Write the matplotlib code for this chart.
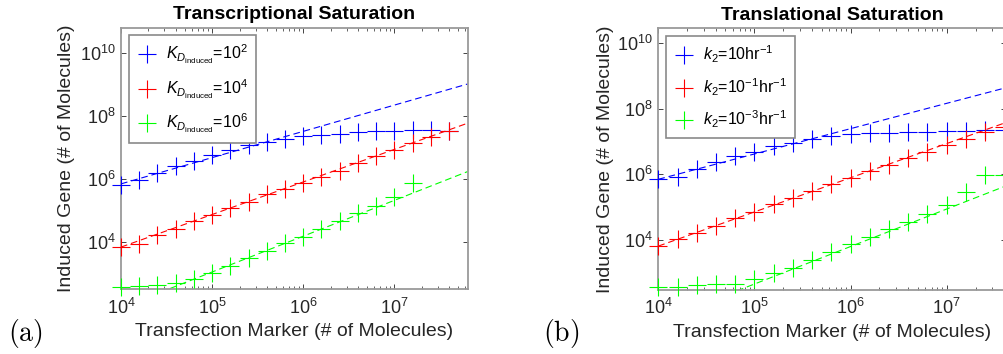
import matplotlib
matplotlib.use('Agg')
import matplotlib.pyplot as plt
import numpy as np
from matplotlib.ticker import LogLocator, FixedLocator, NullLocator, LogFormatterMathtext

plt.rcParams['font.family'] = ['Liberation Sans', 'DejaVu Sans']
plt.rcParams['mathtext.fontset'] = 'custom'
plt.rcParams['mathtext.rm'] = 'Liberation Sans'
plt.rcParams['mathtext.it'] = 'Liberation Sans:italic'
plt.rcParams['mathtext.bf'] = 'Liberation Sans:bold'

# ---------------- data (log10 of molecule counts) ----------------
marker_x_log10 = [4.0, 4.2, 4.4, 4.6, 4.8, 5.0, 5.2, 5.4, 5.6, 5.8,
                  6.0, 6.2, 6.4, 6.6, 6.8, 7.0, 7.2, 7.4, 7.6]

# Panel (a): transcriptional saturation
a_blue_log10 = [5.82, 5.98, 6.19, 6.43, 6.58, 6.77, 6.93, 7.07, 7.19, 7.27,
                7.35, 7.40, 7.44, 7.49, 7.51, 7.51, 7.54, 7.54, 7.51]
a_red_log10 = [3.85, 3.95, 4.22, 4.42, 4.66, 4.87, 5.08, 5.29, 5.53, 5.70,
               5.89, 6.08, 6.27, 6.51, 6.72, 6.91, 7.14, 7.32, 7.51]
a_green_log10 = [2.58, 2.63, 2.65, 2.71, 2.83, 3.04, 3.26, 3.52, 3.74, 3.97,
                 4.18, 4.42, 4.66, 4.92, 5.16, 5.45, 5.89]
a_line_x_log10 = [4.0, 7.805]
a_blue_line_log10 = [5.85, 9.01]
a_red_line_log10 = [3.85, 7.77]
a_green_line_log10 = [1.93, 6.24]
a_labels = [r'$K_{D_{\mathrm{induced}}}$=10$^2$',
            r'$K_{D_{\mathrm{induced}}}$=10$^4$',
            r'$K_{D_{\mathrm{induced}}}$=10$^6$']

# Panel (b): translational saturation
b_blue_log10 = [5.85, 5.93, 6.17, 6.38, 6.56, 6.69, 6.86, 6.97, 7.09, 7.17,
                7.22, 7.25, 7.27, 7.29, 7.30, 7.32, 7.32, 7.34, 7.34]
b_red_log10 = [3.81, 4.04, 4.22, 4.42, 4.66, 4.86, 5.10, 5.29, 5.49, 5.72,
               5.90, 6.10, 6.28, 6.51, 6.69, 6.90, 7.09, 7.30, 7.45]
b_green_log10 = [2.57, 2.57, 2.61, 2.64, 2.66, 2.80, 2.98, 3.15, 3.38, 3.63,
                 3.86, 4.10, 4.32, 4.55, 4.78, 5.06, 5.46, 5.97, 5.97]
b_line_x_log10 = [4.0, 7.623]
b_blue_line_log10 = [5.85, 8.65]
b_red_line_log10 = [3.81, 7.59]
b_green_line_log10 = [1.507, 5.655]
b_labels = [r'$k_2$=10hr$^{-1}$',
            r'$k_2$=10$^{-1}$hr$^{-1}$',
            r'$k_2$=10$^{-3}$hr$^{-1}$']

colors = ['#0000ff', '#ff0000', '#00ff00']
titles = ['Transcriptional Saturation', 'Translational Saturation']
panel_tags = [r'$\mathrm{(a)}$', r'$\mathrm{(b)}$']
xlabel = 'Transfection Marker (# of Molecules)'
ylabel = 'Induced Gene (# of Molecules)'
y_ticks = [1e4, 1e6, 1e8, 1e10]

W, H = 1004, 354
fig = plt.figure(figsize=(W / 100, H / 100), dpi=100)

TXT = '#262626'
SPINE = '#9a9a9a'


def make_panel(rect, series, lines, line_x, labels, title, xlim_log, ylim_log,
               leg_anchor, ylab_x):
    ax = fig.add_axes(rect)
    xm = np.power(10.0, marker_x_log10)
    lx = np.power(10.0, line_x)
    handles = []
    for ys, ly, c in zip(series, lines, colors):
        ax.plot(lx, np.power(10.0, ly), color=c, lw=0.8, dashes=(6, 3.5))
        h, = ax.plot(xm[:len(ys)], np.power(10.0, ys), ls='none', marker='+',
                     ms=13, mew=0.8, color=c, clip_on=False, zorder=3)
        handles.append(h)
    ax.set_xscale('log')
    ax.set_yscale('log')
    ax.set_xlim(10 ** xlim_log[0], 10 ** xlim_log[1])
    ax.set_ylim(10 ** ylim_log[0], 10 ** ylim_log[1])
    ax.xaxis.set_major_locator(LogLocator(base=10))
    ax.xaxis.set_minor_locator(LogLocator(base=10, subs=np.arange(2, 10)))
    ax.xaxis.set_major_formatter(LogFormatterMathtext())
    ax.yaxis.set_major_locator(FixedLocator(y_ticks))
    ax.yaxis.set_minor_locator(NullLocator())
    ax.yaxis.set_major_formatter(LogFormatterMathtext())
    ax.tick_params(which='both', direction='in', top=True, right=True,
                   colors=TXT, labelsize=13)
    ax.tick_params(which='major', length=3.5, width=0.6, pad=4)
    ax.tick_params(axis='x', which='major', pad=6)
    ax.tick_params(which='minor', length=2, width=0.5)
    for s in ax.spines.values():
        s.set_color(SPINE)
        s.set_linewidth(1.3)
    ax.set_title(title, fontsize=14, fontweight='bold', pad=6, color='black')
    ax.set_xlabel(xlabel, fontsize=14, color=TXT, labelpad=4)
    ax.set_ylabel(ylabel, fontsize=14, color=TXT)
    ax.yaxis.set_label_coords(ylab_x, 0.5)
    leg = ax.legend(handles, labels, loc='upper left', bbox_to_anchor=leg_anchor,
                    borderaxespad=0, fontsize=11.5, handlelength=1.2,
                    handletextpad=0.6, labelspacing=0.7, borderpad=0.5,
                    fancybox=False, framealpha=1, edgecolor='#8a8a8a')
    leg.get_frame().set_linewidth(1.2)
    leg.set_zorder(5)
    return ax


ax_a = make_panel([121 / W, 64.7 / H, 346.7 / W, 261.6 / H],
                  [a_blue_log10, a_red_log10, a_green_log10],
                  [a_blue_line_log10, a_red_line_log10, a_green_line_log10],
                  a_line_x_log10, a_labels, titles[0],
                  (4.0, 7.805), (2.515, 10.79), (0.024, 0.972), -0.133)

ax_b = make_panel([658.3 / W, 64 / H, 348.2 / W, 261.7 / H],
                  [b_blue_log10, b_red_log10, b_green_log10],
                  [b_blue_line_log10, b_red_line_log10, b_green_line_log10],
                  b_line_x_log10, b_labels, titles[1],
                  (4.0, 7.623), (2.47, 10.46), (0.022, 0.971), -0.127)

fig.text(8 / W, 1 - 333 / H, panel_tags[0], fontsize=20, va='center', ha='left',
         math_fontfamily='cm')
fig.text(543 / W, 1 - 333 / H, panel_tags[1], fontsize=20, va='center', ha='left',
         math_fontfamily='cm')

fig.savefig('out.png', dpi=100)
